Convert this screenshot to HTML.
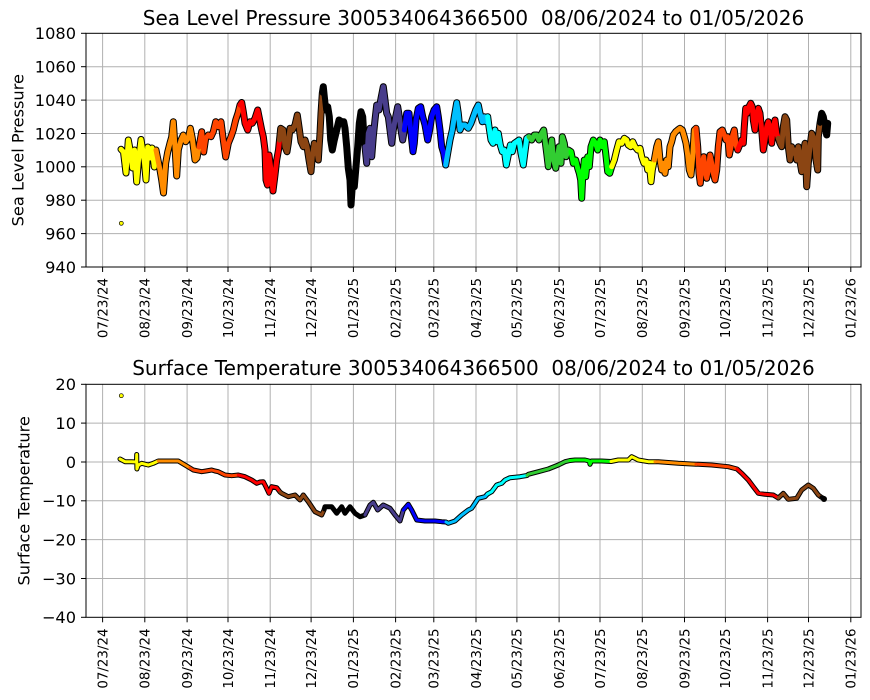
<!DOCTYPE html>
<html><head><meta charset="utf-8"><style>
html,body{margin:0;padding:0;background:#fff;}
svg{display:block}
text{fill:#000}
</style></head><body>
<svg width="870" height="700" xmlns="http://www.w3.org/2000/svg" font-family="DejaVu Sans, Liberation Sans, sans-serif">
<rect width="870" height="700" fill="#fff"/>

<!-- ===== TOP GRID ===== -->
<g stroke="#b0b0b0" stroke-width="1">
<line x1="102.6" y1="33.3" x2="102.6" y2="267"/><line x1="144.8" y1="33.3" x2="144.8" y2="267"/><line x1="187.1" y1="33.3" x2="187.1" y2="267"/><line x1="228" y1="33.3" x2="228" y2="267"/><line x1="270.2" y1="33.3" x2="270.2" y2="267"/><line x1="311.1" y1="33.3" x2="311.1" y2="267"/><line x1="353.4" y1="33.3" x2="353.4" y2="267"/><line x1="395.6" y1="33.3" x2="395.6" y2="267"/><line x1="433.8" y1="33.3" x2="433.8" y2="267"/><line x1="476" y1="33.3" x2="476" y2="267"/><line x1="516.9" y1="33.3" x2="516.9" y2="267"/><line x1="559.1" y1="33.3" x2="559.1" y2="267"/><line x1="600" y1="33.3" x2="600" y2="267"/><line x1="642.3" y1="33.3" x2="642.3" y2="267"/><line x1="684.5" y1="33.3" x2="684.5" y2="267"/><line x1="725.4" y1="33.3" x2="725.4" y2="267"/><line x1="767.6" y1="33.3" x2="767.6" y2="267"/><line x1="808.5" y1="33.3" x2="808.5" y2="267"/><line x1="850.8" y1="33.3" x2="850.8" y2="267"/>
<line x1="86" y1="66.7" x2="861" y2="66.7"/><line x1="86" y1="100.1" x2="861" y2="100.1"/><line x1="86" y1="133.5" x2="861" y2="133.5"/><line x1="86" y1="166.8" x2="861" y2="166.8"/><line x1="86" y1="200.2" x2="861" y2="200.2"/><line x1="86" y1="233.6" x2="861" y2="233.6"/>
</g>

<!-- ===== BOTTOM GRID ===== -->
<g stroke="#b0b0b0" stroke-width="1">
<line x1="102.6" y1="384.3" x2="102.6" y2="617.3"/><line x1="144.8" y1="384.3" x2="144.8" y2="617.3"/><line x1="187.1" y1="384.3" x2="187.1" y2="617.3"/><line x1="228" y1="384.3" x2="228" y2="617.3"/><line x1="270.2" y1="384.3" x2="270.2" y2="617.3"/><line x1="311.1" y1="384.3" x2="311.1" y2="617.3"/><line x1="353.4" y1="384.3" x2="353.4" y2="617.3"/><line x1="395.6" y1="384.3" x2="395.6" y2="617.3"/><line x1="433.8" y1="384.3" x2="433.8" y2="617.3"/><line x1="476" y1="384.3" x2="476" y2="617.3"/><line x1="516.9" y1="384.3" x2="516.9" y2="617.3"/><line x1="559.1" y1="384.3" x2="559.1" y2="617.3"/><line x1="600" y1="384.3" x2="600" y2="617.3"/><line x1="642.3" y1="384.3" x2="642.3" y2="617.3"/><line x1="684.5" y1="384.3" x2="684.5" y2="617.3"/><line x1="725.4" y1="384.3" x2="725.4" y2="617.3"/><line x1="767.6" y1="384.3" x2="767.6" y2="617.3"/><line x1="808.5" y1="384.3" x2="808.5" y2="617.3"/><line x1="850.8" y1="384.3" x2="850.8" y2="617.3"/>
<line x1="86" y1="423.1" x2="861" y2="423.1"/><line x1="86" y1="462" x2="861" y2="462"/><line x1="86" y1="500.8" x2="861" y2="500.8"/><line x1="86" y1="539.6" x2="861" y2="539.6"/><line x1="86" y1="578.5" x2="861" y2="578.5"/>
</g>

<!-- ===== TOP SERIES ===== -->
<g fill="none" stroke-linejoin="round" stroke-linecap="round">
<polyline stroke="#000" stroke-width="7" points="121,149.3 123.5,152 126,173 128.3,140 130.5,152 132.5,168 134.5,150 136.7,182 138.5,160 141,139.5 143,152 144.5,163 146,180 147.7,147 150,158 152,148 154.3,167 156,150 158,160 160,170 161.7,180 163.5,193 165.7,163 167.7,152 170,143 171.7,137 173.3,121.7 175,147 176.7,176 178.3,150 181,140 183.3,135 185.7,141.7 188.3,138.3 190.3,128.3 192.3,138.3 195,160 197,158 199,147 201.7,131.7 203.7,152 205.7,138.3 208.3,135 211,136.7 213.3,131.7 215.7,121.7 218.3,126.7 221,121.7 223.3,140 225.7,157 228.3,143.3 231,136.7 233.3,130 235.7,120 238,113 240,105 241.7,102.5 243.3,111.7 245,123.3 247.7,130 250,121.7 252.3,123.3 255,118.3 257.7,110 259.7,120 261.7,130 263.3,136.7 265,150 266,180 267.5,185 269,155 271,170 273,191 275,175 276.7,160 278.5,150 279.5,140 280.7,128.3 283.3,130 285,146.7 287,151.7 288.3,143.3 290,128.3 292.3,130 295,125 297.3,115 299,126.7 301,141.7 303.3,146.7 305,140 307,146.7 309,160 311,171.7 312.3,156.7 314.3,143.3 316.7,150 318.3,160 320,133.3 321,113.3 322.3,93.3 323.3,86.7 324.3,96.7 325.7,110 327.7,106.7 329.3,116.7 330.7,140 332.3,150 334.3,140 336.7,130 339,120 341.7,121.7 343.7,121.7 345,128.3 346.7,146.7 348.3,168.3 350,180 351,205 352.7,180 354.3,186.7 356,166.7 357.7,146.7 359.3,123.3 361,111.7 362.7,116.7 363.7,133.3 365,146.7 366.7,163.3 368.3,133.3 370,128.3 371.7,156.7 373.3,136.7 375,120 376.7,105 379,110 381,98.3 383.3,86.7 385,100 386.7,113.3 388.3,116.7 390,130 391.7,143.3 393.3,130 395.7,116.7 397.7,106.7 399.3,116.7 401,130 402.7,140 404.3,130 406.7,113.3 409,113.3 411,133.3 413,151.7 414.3,143.3 416,120 418.3,108.3 420.7,106.7 422.7,116.7 425,125 427.7,140 429.7,130 431.7,116.7 434,110 436.7,106.7 438.3,116.7 440,130 441.7,146.7 443.7,153.3 445.7,165 447.7,153.3 450,140 452.3,130 454.3,116.7 456.7,102.7 458.3,113.3 460,130 462.3,125 465,125 468.3,128.3 471,123.3 473.3,116.7 475.7,110 478.3,105 480,113.3 482.3,121.7 484.3,116.7 486,121.7 487.7,116.7 489,126.7 491,140 493,143.3 495,130 497,141.7 498.3,133.3 500.3,145 502.3,151.7 504.3,150 506.3,165 508.3,155 510.3,145 512.3,151.7 514.3,143.3 516.7,141.7 519,140 521,153.3 523.3,165 525,151.7 526.7,138.3 529,136.7 531.7,140 534.3,135 536.7,135 539,140 541.7,133.3 543.7,130 545,140 546.7,153.3 548.3,166.7 550,150 551.7,140 553.7,160 555.7,168.3 557.7,156.7 559,146.7 561,163.3 562.3,136.7 564.3,143.3 566,156.7 568.3,150 571,151.7 573.3,163.3 575.7,160 577.7,168.3 579.3,173.3 580.7,180 581.7,198.3 582.7,176.7 584.3,160 585.7,176.7 587.7,156.7 589.3,166.7 591,146.7 593.3,140 595.7,143.3 597.7,150 600,140 602.3,146.7 604.3,141.7 605.7,153.3 607.7,171.7 609.7,173.3 611.7,166.7 614.3,160 616.7,150 619,141.7 621.7,143.3 624.3,138.3 626.7,140 628.3,145 630.7,146.7 632.7,141.7 635,146.7 637.7,150 640,148.3 641.7,156.7 644,163.3 646,160 647.7,170 649.3,163.3 651,181.7 652.3,170 654.3,160 656.7,146.7 658.3,141.7 660,160 661.7,170 663.3,163.3 665,173.3 666.7,160 668.3,166.7 670,146.7 671.7,141.7 673.3,135 675.7,131.7 677.7,130 680,128.3 682.3,130 684.3,136.7 686,143.3 687.7,155 689.3,170 691,175 692.7,156.7 694.3,130 696,128.3 697.7,146.7 699,173.3 700.3,183.3 701.7,166.7 703.7,156.7 705,170 706.7,178.3 708.3,170 710,155 711.7,163.3 713.3,173.3 715,180 716.7,170 718.3,146.7 720,131.7 722.3,130 724.3,135 726,140 727.7,136.7 729.3,155 731,146.7 732.7,135 734.3,130 736,145 737.7,150 739.7,145 741.7,140 743.3,143.3 744.3,126.7 745.7,108.3 747.3,113.3 749,106.7 750.7,103.3 752.3,106.7 753.3,120 755,130 756.7,113.3 758.3,108.3 760,113.3 761.7,130 763.3,150 765,140 766.7,126.7 768.3,121.7 770,128.3 771.7,143.3 773.3,126.7 775,120 776.7,133.3 778.3,138.3 780,143.3 781.7,146.7 783.3,126.7 785,116.7 786.7,120 788.3,146.7 790,160 791.7,146.7 793.3,153.3 795,150 796.7,160 798.3,146.7 800,161.7 801.7,171.7 803.3,153.3 805,143.3 806.7,186.7 808.3,163.3 810,146.7 811.7,133.3 813.3,136.7 815,146.7 816,160 817.7,170 818.3,136.7 820,123.3 821.7,113.3 823.3,116.7 825,126.7 826.7,135 827.7,123.3"/>
<g stroke-width="5">
<polyline stroke="#ffff00" points="121,149.3 123.5,152 126,173 128.3,140 130.5,152 132.5,168 134.5,150 136.7,182 138.5,160 141,139.5 143,152 144.5,163 146,180 147.7,147 150,158 152,148 154.3,167 156,150"/>
<polyline stroke="#ff8c00" points="156,150 158,160 160,170 161.7,180 163.5,193 165.7,163 167.7,152 170,143 171.7,137 173.3,121.7 175,147 176.7,176 178.3,150 181,140 183.3,135 185.7,141.7 188.3,138.3 190.3,128.3 192.3,138.3 195,160 197,158 199,147"/>
<polyline stroke="#ff4500" points="199,147 201.7,131.7 203.7,152 205.7,138.3 208.3,135 211,136.7 213.3,131.7 215.7,121.7 218.3,126.7 221,121.7 223.3,140 225.7,157 228.3,143.3 231,136.7 233.3,130 235.7,120 238,113 240,105"/>
<polyline stroke="#ff0000" points="240,105 241.7,102.5 243.3,111.7 245,123.3 247.7,130 250,121.7 252.3,123.3 255,118.3 257.7,110 259.7,120 261.7,130 263.3,136.7 265,150 266,180 267.5,185 269,155 271,170 273,191 275,175 276.7,160 278.5,150 279.5,140"/>
<polyline stroke="#8b4513" points="279.5,140 280.7,128.3 283.3,130 285,146.7 287,151.7 288.3,143.3 290,128.3 292.3,130 295,125 297.3,115 299,126.7 301,141.7 303.3,146.7 305,140 307,146.7 309,160 311,171.7 312.3,156.7 314.3,143.3 316.7,150 318.3,160 320,133.3 321,113.3 322.3,93.3"/>
<polyline stroke="#000000" points="322.3,93.3 323.3,86.7 324.3,96.7 325.7,110 327.7,106.7 329.3,116.7 330.7,140 332.3,150 334.3,140 336.7,130 339,120 341.7,121.7 343.7,121.7 345,128.3 346.7,146.7 348.3,168.3 350,180 351,205 352.7,180 354.3,186.7 356,166.7 357.7,146.7 359.3,123.3 361,111.7 362.7,116.7 363.7,133.3 365,146.7"/>
<polyline stroke="#483d8b" points="365,146.7 366.7,163.3 368.3,133.3 370,128.3 371.7,156.7 373.3,136.7 375,120 376.7,105 379,110 381,98.3 383.3,86.7 385,100 386.7,113.3 388.3,116.7 390,130 391.7,143.3 393.3,130 395.7,116.7 397.7,106.7 399.3,116.7 401,130 402.7,140 404.3,130"/>
<polyline stroke="#0000ff" points="404.3,130 406.7,113.3 409,113.3 411,133.3 413,151.7 414.3,143.3 416,120 418.3,108.3 420.7,106.7 422.7,116.7 425,125 427.7,140 429.7,130 431.7,116.7 434,110 436.7,106.7 438.3,116.7 440,130 441.7,146.7 443.7,153.3 445.7,165"/>
<polyline stroke="#00bfff" points="445.7,165 447.7,153.3 450,140 452.3,130 454.3,116.7 456.7,102.7 458.3,113.3 460,130 462.3,125 465,125 468.3,128.3 471,123.3 473.3,116.7 475.7,110 478.3,105 480,113.3 482.3,121.7 484.3,116.7 486,121.7 487.7,116.7"/>
<polyline stroke="#00ffff" points="487.7,116.7 489,126.7 491,140 493,143.3 495,130 497,141.7 498.3,133.3 500.3,145 502.3,151.7 504.3,150 506.3,165 508.3,155 510.3,145 512.3,151.7 514.3,143.3 516.7,141.7 519,140 521,153.3 523.3,165 525,151.7 526.7,138.3 529,136.7"/>
<polyline stroke="#32cd32" points="529,136.7 531.7,140 534.3,135 536.7,135 539,140 541.7,133.3 543.7,130 545,140 546.7,153.3 548.3,166.7 550,150 551.7,140 553.7,160 555.7,168.3 557.7,156.7 559,146.7 561,163.3 562.3,136.7 564.3,143.3 566,156.7 568.3,150 571,151.7"/>
<polyline stroke="#00ff00" points="571,151.7 573.3,163.3 575.7,160 577.7,168.3 579.3,173.3 580.7,180 581.7,198.3 582.7,176.7 584.3,160 585.7,176.7 587.7,156.7 589.3,166.7 591,146.7 593.3,140 595.7,143.3 597.7,150 600,140 602.3,146.7 604.3,141.7 605.7,153.3 607.7,171.7 609.7,173.3 611.7,166.7"/>
<polyline stroke="#ffff00" points="611.7,166.7 614.3,160 616.7,150 619,141.7 621.7,143.3 624.3,138.3 626.7,140 628.3,145 630.7,146.7 632.7,141.7 635,146.7 637.7,150 640,148.3 641.7,156.7 644,163.3 646,160 647.7,170 649.3,163.3 651,181.7 652.3,170 654.3,160"/>
<polyline stroke="#ff8c00" points="654.3,160 656.7,146.7 658.3,141.7 660,160 661.7,170 663.3,163.3 665,173.3 666.7,160 668.3,166.7 670,146.7 671.7,141.7 673.3,135 675.7,131.7 677.7,130 680,128.3 682.3,130 684.3,136.7 686,143.3 687.7,155 689.3,170 691,175 692.7,156.7 694.3,130 696,128.3"/>
<polyline stroke="#ff4500" points="696,128.3 697.7,146.7 699,173.3 700.3,183.3 701.7,166.7 703.7,156.7 705,170 706.7,178.3 708.3,170 710,155 711.7,163.3 713.3,173.3 715,180 716.7,170 718.3,146.7 720,131.7 722.3,130 724.3,135 726,140 727.7,136.7 729.3,155 731,146.7 732.7,135 734.3,130 736,145 737.7,150"/>
<polyline stroke="#ff0000" points="737.7,150 739.7,145 741.7,140 743.3,143.3 744.3,126.7 745.7,108.3 747.3,113.3 749,106.7 750.7,103.3 752.3,106.7 753.3,120 755,130 756.7,113.3 758.3,108.3 760,113.3 761.7,130 763.3,150 765,140 766.7,126.7 768.3,121.7 770,128.3 771.7,143.3 773.3,126.7 775,120 776.7,133.3 778.3,138.3"/>
<polyline stroke="#8b4513" points="778.3,138.3 780,143.3 781.7,146.7 783.3,126.7 785,116.7 786.7,120 788.3,146.7 790,160 791.7,146.7 793.3,153.3 795,150 796.7,160 798.3,146.7 800,161.7 801.7,171.7 803.3,153.3 805,143.3 806.7,186.7 808.3,163.3 810,146.7 811.7,133.3 813.3,136.7 815,146.7 816,160 817.7,170 818.3,136.7 820,123.3"/>
<polyline stroke="#000000" points="820,123.3 821.7,113.3 823.3,116.7 825,126.7 826.7,135 827.7,123.3"/>
</g>
</g>
<circle cx="121.3" cy="223.3" r="2" fill="#ffff00" stroke="#000" stroke-width="0.7"/>

<!-- ===== BOTTOM SERIES ===== -->
<g fill="none" stroke-linejoin="round" stroke-linecap="round">
<polyline stroke="#000" stroke-width="5" points="120,459 125,461.7 131.7,461.7 136.5,462 136.7,454.5 136.9,469 138.3,465 141.7,463.3 148.3,465 153.3,463.3 158.3,461 165,461 178.3,461 185,465 190,468 193.3,470 201.7,471.7 206,471 211.7,470 215,471 218.3,471.7 225,475 231.7,475.7 238.3,475 245,476.7 251.7,480 256.7,483.3 260,482 263.3,481.7 266,487 269,493.3 271.7,486.7 276.7,487.7 280,492 281.7,493.3 288.3,496.7 295,495 300,500 303.3,495 308.3,501.7 315,511.7 321.7,515 324,510 325,506.7 331.7,506.7 336.7,513.3 341.7,506.7 345,513.3 350,506.7 355,513.3 360,516.7 365,515 370,505 373.3,502.3 377.7,510 383.3,505 390,508.3 395,515 400,521 403.3,510 408.3,504.3 411.7,510 416.7,520 425,521 435,521 441.7,521.7 446,522 448.3,523.3 455,521 461.7,515 468.3,510 471.7,508.3 478.3,498.3 485,496.7 487.5,494 491.7,491.7 496.7,485 501.7,483.3 505,480 510,477.7 520,476.7 527,475.5 528.3,474.3 538.3,471.7 548.3,469 558.3,465 565,461.7 570,460.5 575,460 585,460 589,461 590,464.3 591.5,461 601.7,461 611,461.5 618.3,460 628.3,460 631.7,456.7 638.3,460 648.3,461.7 655,461.7 658.3,461.7 678.3,463.3 696,464.3 698.3,464.3 711.7,465 728.3,466.7 737,469 741.7,473.3 748.3,480 753.3,486.7 758.3,493.3 765,494.3 773.3,495 778.3,498 783.3,493.3 788.3,499.3 796.7,498.3 801.7,490 808.3,485 813.3,488.3 818.3,495 821,497 823.3,498.3 824,499"/>
<g stroke-width="3">
<polyline stroke="#ffff00" points="120,459 125,461.7 131.7,461.7 136.5,462 136.7,454.5 136.9,469 138.3,465 141.7,463.3 148.3,465 153.3,463.3 158.3,461"/>
<polyline stroke="#ff8c00" points="158.3,461 165,461 178.3,461 185,465 190,468"/>
<polyline stroke="#ff4500" points="190,468 193.3,470 201.7,471.7 206,471 211.7,470 215,471 218.3,471.7 225,475 231.7,475.7 238.3,475"/>
<polyline stroke="#ff0000" points="238.3,475 245,476.7 251.7,480 256.7,483.3 260,482 263.3,481.7 266,487 269,493.3 271.7,486.7 276.7,487.7 280,492"/>
<polyline stroke="#8b4513" points="280,492 281.7,493.3 288.3,496.7 295,495 300,500 303.3,495 308.3,501.7 315,511.7 321.7,515 324,510"/>
<polyline stroke="#000000" points="324,510 325,506.7 331.7,506.7 336.7,513.3 341.7,506.7 345,513.3 350,506.7 355,513.3 360,516.7 365,515"/>
<polyline stroke="#483d8b" points="365,515 370,505 373.3,502.3 377.7,510 383.3,505 390,508.3 395,515 400,521 403.3,510"/>
<polyline stroke="#0000ff" points="403.3,510 408.3,504.3 411.7,510 416.7,520 425,521 435,521 441.7,521.7 446,522"/>
<polyline stroke="#00bfff" points="446,522 448.3,523.3 455,521 461.7,515 468.3,510 471.7,508.3 478.3,498.3 485,496.7 487.5,494"/>
<polyline stroke="#00ffff" points="487.5,494 491.7,491.7 496.7,485 501.7,483.3 505,480 510,477.7 520,476.7 527,475.5"/>
<polyline stroke="#32cd32" points="527,475.5 528.3,474.3 538.3,471.7 548.3,469 558.3,465 565,461.7 570,460.5"/>
<polyline stroke="#00ff00" points="570,460.5 575,460 585,460 589,461 590,464.3 591.5,461 601.7,461 611,461.5"/>
<polyline stroke="#ffff00" points="611,461.5 618.3,460 628.3,460 631.7,456.7 638.3,460 648.3,461.7 655,461.7"/>
<polyline stroke="#ff8c00" points="655,461.7 658.3,461.7 678.3,463.3 696,464.3"/>
<polyline stroke="#ff4500" points="696,464.3 698.3,464.3 711.7,465 728.3,466.7 737,469"/>
<polyline stroke="#ff0000" points="737,469 741.7,473.3 748.3,480 753.3,486.7 758.3,493.3 765,494.3 773.3,495 778.3,498"/>
<polyline stroke="#8b4513" points="778.3,498 783.3,493.3 788.3,499.3 796.7,498.3 801.7,490 808.3,485 813.3,488.3 818.3,495 821,497"/>
<polyline stroke="#000000" points="821,497 823.3,498.3 824,499"/>
</g>
</g>
<circle cx="824" cy="499" r="3" fill="#000"/>
<circle cx="121.3" cy="395.7" r="2" fill="#ffff00" stroke="#000" stroke-width="0.7"/>

<!-- ===== SPINES ===== -->
<rect x="86" y="33.3" width="775" height="233.7" fill="none" stroke="#000" stroke-width="1"/>
<rect x="86" y="384.3" width="775" height="233" fill="none" stroke="#000" stroke-width="1"/>

<!-- ===== TICKS ===== -->
<g stroke="#000" stroke-width="1">
<!-- top y ticks -->
<line x1="81" y1="33.3" x2="86" y2="33.3"/><line x1="81" y1="66.7" x2="86" y2="66.7"/><line x1="81" y1="100.1" x2="86" y2="100.1"/><line x1="81" y1="133.5" x2="86" y2="133.5"/><line x1="81" y1="166.8" x2="86" y2="166.8"/><line x1="81" y1="200.2" x2="86" y2="200.2"/><line x1="81" y1="233.6" x2="86" y2="233.6"/><line x1="81" y1="267" x2="86" y2="267"/>
<!-- bottom y ticks -->
<line x1="81" y1="384.3" x2="86" y2="384.3"/><line x1="81" y1="423.1" x2="86" y2="423.1"/><line x1="81" y1="462" x2="86" y2="462"/><line x1="81" y1="500.8" x2="86" y2="500.8"/><line x1="81" y1="539.6" x2="86" y2="539.6"/><line x1="81" y1="578.5" x2="86" y2="578.5"/><line x1="81" y1="617.3" x2="86" y2="617.3"/>
<!-- top x ticks -->
<line x1="102.6" y1="267" x2="102.6" y2="272"/><line x1="144.8" y1="267" x2="144.8" y2="272"/><line x1="187.1" y1="267" x2="187.1" y2="272"/><line x1="228" y1="267" x2="228" y2="272"/><line x1="270.2" y1="267" x2="270.2" y2="272"/><line x1="311.1" y1="267" x2="311.1" y2="272"/><line x1="353.4" y1="267" x2="353.4" y2="272"/><line x1="395.6" y1="267" x2="395.6" y2="272"/><line x1="433.8" y1="267" x2="433.8" y2="272"/><line x1="476" y1="267" x2="476" y2="272"/><line x1="516.9" y1="267" x2="516.9" y2="272"/><line x1="559.1" y1="267" x2="559.1" y2="272"/><line x1="600" y1="267" x2="600" y2="272"/><line x1="642.3" y1="267" x2="642.3" y2="272"/><line x1="684.5" y1="267" x2="684.5" y2="272"/><line x1="725.4" y1="267" x2="725.4" y2="272"/><line x1="767.6" y1="267" x2="767.6" y2="272"/><line x1="808.5" y1="267" x2="808.5" y2="272"/><line x1="850.8" y1="267" x2="850.8" y2="272"/>
<!-- bottom x ticks -->
<line x1="102.6" y1="617.3" x2="102.6" y2="622.3"/><line x1="144.8" y1="617.3" x2="144.8" y2="622.3"/><line x1="187.1" y1="617.3" x2="187.1" y2="622.3"/><line x1="228" y1="617.3" x2="228" y2="622.3"/><line x1="270.2" y1="617.3" x2="270.2" y2="622.3"/><line x1="311.1" y1="617.3" x2="311.1" y2="622.3"/><line x1="353.4" y1="617.3" x2="353.4" y2="622.3"/><line x1="395.6" y1="617.3" x2="395.6" y2="622.3"/><line x1="433.8" y1="617.3" x2="433.8" y2="622.3"/><line x1="476" y1="617.3" x2="476" y2="622.3"/><line x1="516.9" y1="617.3" x2="516.9" y2="622.3"/><line x1="559.1" y1="617.3" x2="559.1" y2="622.3"/><line x1="600" y1="617.3" x2="600" y2="622.3"/><line x1="642.3" y1="617.3" x2="642.3" y2="622.3"/><line x1="684.5" y1="617.3" x2="684.5" y2="622.3"/><line x1="725.4" y1="617.3" x2="725.4" y2="622.3"/><line x1="767.6" y1="617.3" x2="767.6" y2="622.3"/><line x1="808.5" y1="617.3" x2="808.5" y2="622.3"/><line x1="850.8" y1="617.3" x2="850.8" y2="622.3"/>
</g>

<!-- ===== Y TICK LABELS ===== -->
<g font-size="16.2" text-anchor="end">
<text x="76" y="39.1">1080</text><text x="76" y="72.5">1060</text><text x="76" y="105.9">1040</text><text x="76" y="139.3">1020</text><text x="76" y="172.6">1000</text><text x="76" y="206">980</text><text x="76" y="239.4">960</text><text x="76" y="272.8">940</text>
<text x="76" y="390.1">20</text><text x="76" y="428.9">10</text><text x="76" y="467.8">0</text><text x="76" y="506.6">−10</text><text x="76" y="545.4">−20</text><text x="76" y="584.3">−30</text><text x="76" y="623.1">−40</text>
</g>

<!-- ===== X TICK LABELS ===== -->
<g font-size="13.4" text-anchor="end">
<text transform="translate(102.6,278) rotate(-90)" dy="0.36em">07/23/24</text>
<text transform="translate(144.8,278) rotate(-90)" dy="0.36em">08/23/24</text>
<text transform="translate(187.1,278) rotate(-90)" dy="0.36em">09/23/24</text>
<text transform="translate(228,278) rotate(-90)" dy="0.36em">10/23/24</text>
<text transform="translate(270.2,278) rotate(-90)" dy="0.36em">11/23/24</text>
<text transform="translate(311.1,278) rotate(-90)" dy="0.36em">12/23/24</text>
<text transform="translate(353.4,278) rotate(-90)" dy="0.36em">01/23/25</text>
<text transform="translate(395.6,278) rotate(-90)" dy="0.36em">02/23/25</text>
<text transform="translate(433.8,278) rotate(-90)" dy="0.36em">03/23/25</text>
<text transform="translate(476,278) rotate(-90)" dy="0.36em">04/23/25</text>
<text transform="translate(516.9,278) rotate(-90)" dy="0.36em">05/23/25</text>
<text transform="translate(559.1,278) rotate(-90)" dy="0.36em">06/23/25</text>
<text transform="translate(600,278) rotate(-90)" dy="0.36em">07/23/25</text>
<text transform="translate(642.3,278) rotate(-90)" dy="0.36em">08/23/25</text>
<text transform="translate(684.5,278) rotate(-90)" dy="0.36em">09/23/25</text>
<text transform="translate(725.4,278) rotate(-90)" dy="0.36em">10/23/25</text>
<text transform="translate(767.6,278) rotate(-90)" dy="0.36em">11/23/25</text>
<text transform="translate(808.5,278) rotate(-90)" dy="0.36em">12/23/25</text>
<text transform="translate(850.8,278) rotate(-90)" dy="0.36em">01/23/26</text>

<text transform="translate(102.6,628.5) rotate(-90)" dy="0.36em">07/23/24</text>
<text transform="translate(144.8,628.5) rotate(-90)" dy="0.36em">08/23/24</text>
<text transform="translate(187.1,628.5) rotate(-90)" dy="0.36em">09/23/24</text>
<text transform="translate(228,628.5) rotate(-90)" dy="0.36em">10/23/24</text>
<text transform="translate(270.2,628.5) rotate(-90)" dy="0.36em">11/23/24</text>
<text transform="translate(311.1,628.5) rotate(-90)" dy="0.36em">12/23/24</text>
<text transform="translate(353.4,628.5) rotate(-90)" dy="0.36em">01/23/25</text>
<text transform="translate(395.6,628.5) rotate(-90)" dy="0.36em">02/23/25</text>
<text transform="translate(433.8,628.5) rotate(-90)" dy="0.36em">03/23/25</text>
<text transform="translate(476,628.5) rotate(-90)" dy="0.36em">04/23/25</text>
<text transform="translate(516.9,628.5) rotate(-90)" dy="0.36em">05/23/25</text>
<text transform="translate(559.1,628.5) rotate(-90)" dy="0.36em">06/23/25</text>
<text transform="translate(600,628.5) rotate(-90)" dy="0.36em">07/23/25</text>
<text transform="translate(642.3,628.5) rotate(-90)" dy="0.36em">08/23/25</text>
<text transform="translate(684.5,628.5) rotate(-90)" dy="0.36em">09/23/25</text>
<text transform="translate(725.4,628.5) rotate(-90)" dy="0.36em">10/23/25</text>
<text transform="translate(767.6,628.5) rotate(-90)" dy="0.36em">11/23/25</text>
<text transform="translate(808.5,628.5) rotate(-90)" dy="0.36em">12/23/25</text>
<text transform="translate(850.8,628.5) rotate(-90)" dy="0.36em">01/23/26</text>
</g>

<!-- ===== AXIS LABELS ===== -->
<text transform="translate(23.5,150.2) rotate(-90)" text-anchor="middle" font-size="16.2">Sea Level Pressure</text>
<text transform="translate(29.5,500.8) rotate(-90)" text-anchor="middle" font-size="16.2">Surface Temperature</text>

<!-- ===== TITLES ===== -->
<text x="473.5" y="25" text-anchor="middle" font-size="20" style="white-space:pre" xml:space="preserve">Sea Level Pressure 300534064366500  08/06/2024 to 01/05/2026</text>
<text x="473.5" y="375" text-anchor="middle" font-size="20" style="white-space:pre" xml:space="preserve">Surface Temperature 300534064366500  08/06/2024 to 01/05/2026</text>
</svg>
</body></html>
